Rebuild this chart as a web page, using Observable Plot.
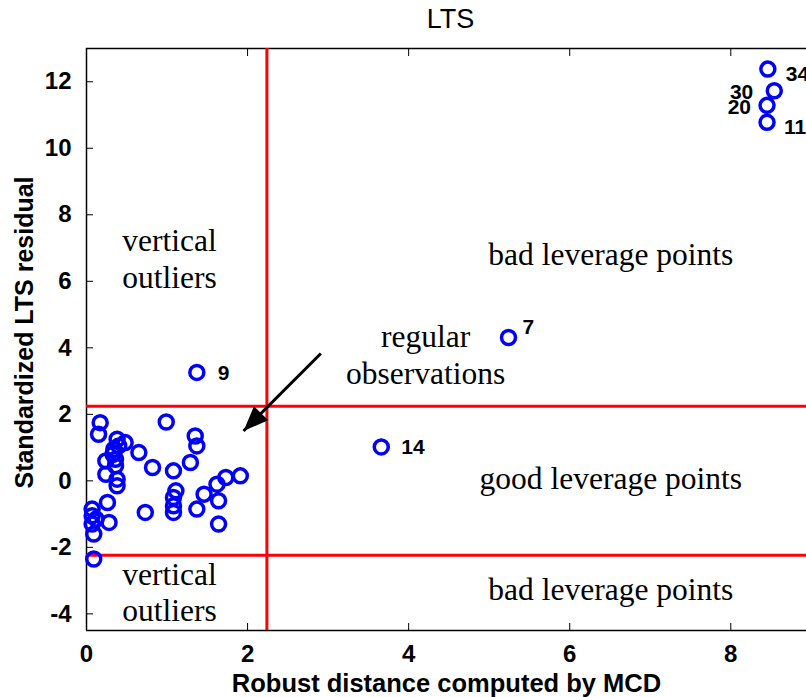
<!DOCTYPE html>
<html><head><meta charset="utf-8">
<script src="https://cdn.jsdelivr.net/npm/d3@7"></script>
<script src="https://cdn.jsdelivr.net/npm/@observablehq/plot@0.6"></script>
<style>body{margin:0;background:#fff;overflow:hidden} #chart{width:806px;height:697px}</style>
</head><body><div id="chart"></div>
<script>
// Regular observations (robust distance, standardized LTS residual)
const clusterX = [0.17,0.15,0.38,0.48,0.34,0.65,0.24,0.36,0.36,0.82,0.24,0.38,0.38,0.26,0.73,0.07,0.07,0.28,0.07,0.09,
                  0.09,0.99,1.35,1.37,1.29,1.08,1.73,1.91,1.62,1.11,1.08,1.46,1.64,1.08,1.37,1.64,1.08,0.40,0.33,0.12];
const clusterY = [1.75,1.40,1.25,1.15,0.95,0.85,0.60,0.65,0.45,0.40,0.20,0.05,-0.15,-0.65,-0.95,-0.85,-1.05,-1.25,-1.30,-1.60,
                  -2.35,1.77,1.35,1.05,0.55,0.30,0.10,0.15,-0.10,-0.30,-0.50,-0.40,-0.60,-0.95,-0.85,-1.30,-0.75,1.05,0.80,-1.15];
// Labelled outliers
const outlierIds = ["34","30","20","11","7","9","14"];
const outlierX = [8.46, 8.54, 8.45, 8.45, 5.24, 1.37, 3.66];
const outlierY = [12.38, 11.73, 11.29, 10.78, 4.31, 3.26, 1.02];
const cutoff = 2.24;
const xTicks = [0, 2, 4, 6, 8];
const yTicks = [-4, -2, 0, 2, 4, 6, 8, 10, 12];
const xDomain = [0, 8.94];
const yDomain = [-4.5, 13];
const regionLabels = ["vertical\noutliers", "bad leverage points", "regular\nobservations", "good leverage points", "bad leverage points", "vertical\noutliers"];
const regionX = [1.03, 6.51, 4.21, 6.51, 6.51, 1.03];
const regionY = [6.7, 6.85, 3.83, 0.12, -3.22, -3.32];
const arrowFrom = [2.91, 3.83];
const arrowTo = [1.95, 1.50];
const titleText = "LTS";
const xLabel = "Robust distance computed by MCD";
const yLabel = "Standardized LTS residual";

const cluster = clusterX.map((x, i) => ({x, y: clusterY[i]}));
const outliers = outlierIds.map((id, i) => ({id, x: outlierX[i], y: outlierY[i]}));
const points = cluster.concat(outliers);
const regions = regionLabels.map((t, i) => ({t, x: regionX[i], y: regionY[i]}));

const labelOffsets = {
  "34": {dx: 18, dy: 5, a: "start"},
  "30": {dx: -21, dy: 2, a: "end"},
  "20": {dx: -16, dy: 2, a: "end"},
  "11": {dx: 17, dy: 5, a: "start"},
  "7":  {dx: 14, dy: -10, a: "start"},
  "9":  {dx: 21, dy: 1, a: "start"},
  "14": {dx: 20, dy: 0, a: "start"}
};

const sans = "Liberation Sans, Arial, sans-serif";
const serif = "Liberation Serif, Times New Roman, serif";
const fmt = d => String(d);

const triangle = {
  draw(context, l, r) {
    context.moveTo(-r, 0);
    context.lineTo(0, -l);
    context.lineTo(r, 0);
    context.closePath();
  }
};

const chart = Plot.plot({
  width: 806,
  height: 697,
  marginLeft: 86,
  marginTop: 48,
  marginBottom: 67,
  marginRight: 0,
  style: {fontFamily: sans, background: "#fff", overflow: "visible"},
  x: {domain: xDomain},
  y: {domain: yDomain},
  marks: [
    // frame (top, bottom, left)
    Plot.ruleY([yDomain[1]], {stroke: "#000", strokeWidth: 1.5}),
    Plot.ruleY([yDomain[0]], {stroke: "#000", strokeWidth: 1.5}),
    Plot.ruleX([xDomain[0]], {stroke: "#000", strokeWidth: 1.5}),
    Plot.axisX({ticks: xTicks, tickFormat: fmt, tickSize: -7, tickPadding: 21, fontSize: 24, fontWeight: "bold", label: null}),
    Plot.axisX({ticks: xTicks, anchor: "top", tickSize: -7, tickFormat: () => "", label: null}),
    Plot.axisY({ticks: yTicks, tickFormat: fmt, tickSize: -7, tickPadding: 22, fontSize: 24, fontWeight: "bold", label: null}),
    // cutoff lines
    Plot.ruleX([cutoff], {stroke: "red", strokeWidth: 3}),
    Plot.ruleY([-cutoff, cutoff], {stroke: "red", strokeWidth: 3}),
    // points
    Plot.dot(points, {x: "x", y: "y", r: 7, stroke: "#0000ff", strokeWidth: 3.5, fill: "none"}),
    // point labels
    ...outliers.map(o => Plot.text([o], {x: "x", y: "y", text: "id", dx: labelOffsets[o.id].dx, dy: labelOffsets[o.id].dy,
      textAnchor: labelOffsets[o.id].a, fontSize: 21, fontWeight: "bold", fill: "#000"})),
    // region annotations
    Plot.text(regions, {x: "x", y: "y", text: "t", fontFamily: serif, fontSize: 31.5, lineHeight: 1.17, fill: "#000"}),
    // arrow
    Plot.link([{x1: arrowFrom[0], y1: arrowFrom[1], x2: arrowTo[0], y2: arrowTo[1]}], {x1: "x1", y1: "y1", x2: "x2", y2: "y2", stroke: "#000", strokeWidth: 3}),
    Plot.vector([{x: arrowTo[0], y: arrowTo[1]}], {x: "x", y: "y", anchor: "end", length: 25, r: 10, rotate: 224.6, shape: triangle, fill: "#000", stroke: "none"}),
    // title and axis labels
    Plot.text([titleText], {frameAnchor: "top", lineAnchor: "middle", textAnchor: "middle", dx: 4, dy: -29, fontSize: 27, fill: "#000"}),
    Plot.text([xLabel], {frameAnchor: "bottom", lineAnchor: "middle", textAnchor: "middle", dy: 53, fontSize: 25.5, fontWeight: "bold", fill: "#000"}),
    Plot.text([yLabel], {frameAnchor: "left", lineAnchor: "middle", textAnchor: "middle", dx: -62, dy: -7, rotate: -90, fontSize: 25, fontWeight: "bold", fill: "#000"})
  ]
});
document.getElementById("chart").appendChild(chart);
</script>
</body></html>
